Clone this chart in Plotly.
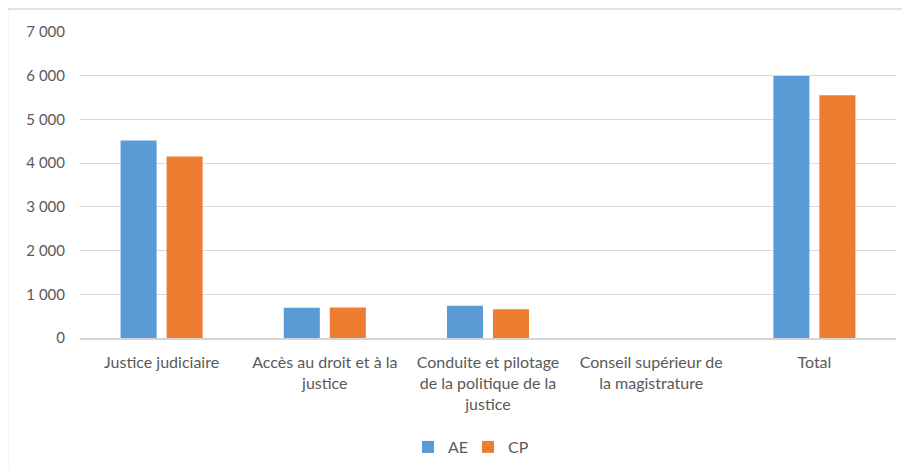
import plotly.graph_objects as go

categories = [
    "Justice judiciaire",
    "Accès au droit et à la<br>justice",
    "Conduite et pilotage<br>de la politique de la<br>justice",
    "Conseil supérieur de<br>la magistrature",
    "Total",
]
ae_values = [4520, 690, 735, 0, 5995]
cp_values = [4150, 695, 660, 0, 5555]
tick_vals = [0, 1000, 2000, 3000, 4000, 5000, 6000, 7000]
tick_text = ["0", "1 000", "2 000", "3 000", "4 000", "5 000", "6 000", "7 000"]

OFF = 8  # page body offset
W, H = 910, 471
L, T = 80 - OFF, 32 - OFF
R = W - (896 - OFF)
B = H - (338 - OFF)

fig = go.Figure()
fig.add_trace(go.Bar(name="AE", x=categories, y=ae_values, marker_color="#5B9BD5",
                     marker_line_width=0))
fig.add_trace(go.Bar(name="CP", x=categories, y=cp_values, marker_color="#ED7D31",
                     marker_line_width=0))

font = dict(family="Lato, 'Open Sans', sans-serif", size=15, color="#595959")
xfont = dict(family="Lato, 'Open Sans', sans-serif", size=16, color="#595959")

fig.update_layout(
    width=W, height=H,
    margin=dict(l=L, r=R, t=T, b=B, autoexpand=False),
    barmode="group", bargap=0.436, bargroupgap=0.217,
    plot_bgcolor="white", paper_bgcolor="white",
    font=font,
    xaxis=dict(showgrid=False, showline=True, linecolor="#D4D4D4", linewidth=1.5,
               ticks="", tickangle=0, tickfont=xfont, fixedrange=True,
               ticklabelstandoff=9),
    yaxis=dict(range=[0, 7000], tickvals=tick_vals, ticktext=tick_text,
               showgrid=True, gridcolor="#D9D9D9", gridwidth=1.3, zeroline=False,
               showline=False, ticks="", ticklabelstandoff=14, tickfont=font),
    legend=dict(orientation="h", xref="paper", x=(468 - 80) / (896 - 80), xanchor="center",
                yref="container", y=1 - (447 - OFF) / H, yanchor="middle",
                font=xfont, entrywidth=15, entrywidthmode="pixels",
                itemwidth=30, traceorder="normal"),
    showlegend=True,
)

# outer chart border (top and left visible)
pw = W - L - R
ph = H - T - B
def px_x(x):
    return (x - OFF - L) / pw
def px_y(y):
    return (H - B - (y - OFF)) / ph
fig.add_shape(type="line", xref="paper", yref="paper",
              x0=px_x(7.5), x1=px_x(920), y0=px_y(9), y1=px_y(9),
              line=dict(color="#D9D9D9", width=1.5))
fig.add_shape(type="line", xref="paper", yref="paper",
              x0=px_x(7.5), x1=px_x(7.5), y0=px_y(9), y1=px_y(480),
              line=dict(color="#D9D9D9", width=1.5))

fig.write_html("out.html")
